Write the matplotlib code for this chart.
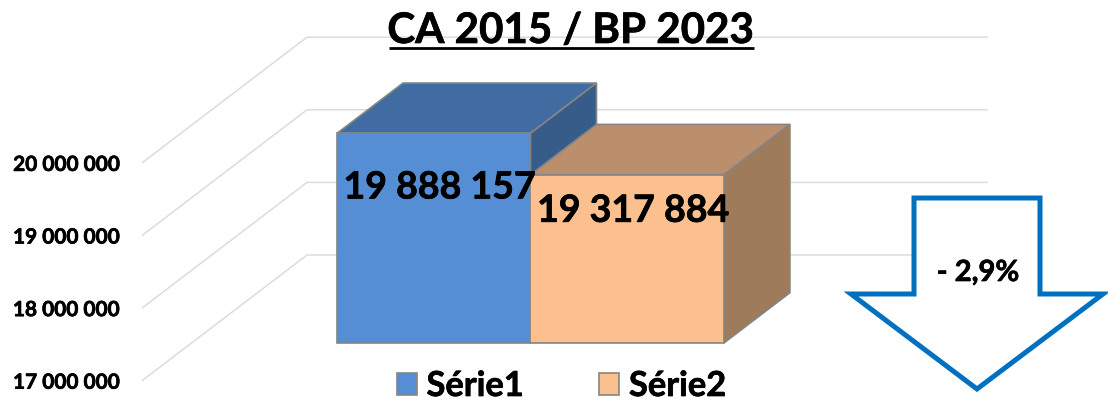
#!/usr/bin/env python
"""CA 2015 / BP 2023: two 3D-look bars with a -2,9% arrow."""
import matplotlib
matplotlib.use("Agg")
import matplotlib.pyplot as plt
import matplotlib.patheffects as pe
from matplotlib.patches import Polygon, Patch

plt.rcParams["font.family"] = ["Lato", "DejaVu Sans"]
plt.rcParams["font.weight"] = "bold"

# data
series = ["Série1", "Série2"]
values = [19888157, 19317884]
value_labels = ["19 888 157", "19 317 884"]
ticks = [17000000, 18000000, 19000000, 20000000]
tick_labels = ["17 000 000", "18 000 000", "19 000 000", "20 000 000"]
title = "CA 2015 / BP 2023"
change_label = "- 2,9%"

# figure layout, in pixels
W, H = 1108, 403
AXIS_X = 142          # front left corner of the floor
FLOOR_W = 680         # width of the floor in px
BASE_Y = 380.7        # pixel row of 17 000 000 on the front edge
PX_PER_UNIT = 72.6 / 1e6
DEPTH_X = 165 / FLOOR_W             # full depth, x axis units
DEPTH_Y = 125.7 / PX_PER_UNIT       # full depth, value units

# bar shape, depth from 0.3 to 0.7
BAR_W = 0.2845
BAR_START = 0.214
DEPTH_FRONT, DEPTH_BACK = 0.3, 0.7

front_colors = ["#558ED5", "#FBC08D"]
top_colors = ["#416CA2", "#BB8F6B"]
side_colors = ["#375C8A", "#9E7B5B"]
EDGE = "#858585"
GRID = "#DCDCDC"
ARROW = "#0070C0"

# Lato bold is a bit lighter than the original face
HEAVY = [pe.withStroke(linewidth=0.5, foreground="black")]

fig = plt.figure(figsize=(W / 100, H / 100), dpi=100)
ax = fig.add_axes([AXIS_X / W, 0, (W - AXIS_X) / W, 1])
ax.set_xlim(0, (W - AXIS_X) / FLOOR_W)
ax.set_ylim(ticks[0] - (H - BASE_Y) / PX_PER_UNIT, ticks[0] + BASE_Y / PX_PER_UNIT)
for spine in ax.spines.values():
    spine.set_visible(False)
ax.set_xticks([])
ax.set_yticks(ticks, tick_labels)
ax.tick_params(axis="y", length=0, pad=16.2, labelsize=15)
for lbl in ax.get_yticklabels():
    lbl.set_path_effects(HEAVY)
ax.patch.set_visible(False)


def proj(x, v, depth):
    """Project a point (x, value, depth) on the flat axes."""
    return x + DEPTH_X * depth, v + DEPTH_Y * depth


# walls
for t in ticks:
    ax.plot([0, DEPTH_X, 1 + DEPTH_X], [t, t + DEPTH_Y, t + DEPTH_Y],
            color=GRID, lw=1.1, zorder=1)

# bars
for i, v in enumerate(values):
    x0 = BAR_START + i * BAR_W
    x1 = x0 + BAR_W
    base = ticks[0]
    faces = [
        ([(x0, v, DEPTH_FRONT), (x1, v, DEPTH_FRONT), (x1, v, DEPTH_BACK), (x0, v, DEPTH_BACK)], top_colors[i]),
        ([(x1, base, DEPTH_FRONT), (x1, base, DEPTH_BACK), (x1, v, DEPTH_BACK), (x1, v, DEPTH_FRONT)], side_colors[i]),
        ([(x0, base, DEPTH_FRONT), (x1, base, DEPTH_FRONT), (x1, v, DEPTH_FRONT), (x0, v, DEPTH_FRONT)], front_colors[i]),
    ]
    for pts, color in faces:
        ax.add_patch(Polygon([proj(*p) for p in pts], closed=True, facecolor=color,
                             edgecolor=EDGE, lw=1.2, zorder=2 + i, joinstyle="miter"))

# data labels sit a little under the top of each bar
label_drops = [-39, -26]
for i, v in enumerate(values):
    cx, cy = proj(BAR_START + (i + 0.5) * BAR_W, v, DEPTH_FRONT)
    ax.annotate(value_labels[i], (cx, cy), xytext=(4.3, label_drops[i]), textcoords="offset points",
                ha="center", va="center", fontsize=27, color="black", zorder=6, path_effects=HEAVY)

# overlay in pixel coordinates for title, arrow and legend
ov = fig.add_axes([0, 0, 1, 1])
ov.set_xlim(0, W)
ov.set_ylim(H, 0)
ov.axis("off")
ov.patch.set_visible(False)

ov.text(571, 31, title, ha="center", va="center", fontsize=30.3, color="black", path_effects=HEAVY)
ov.plot([389, 754], [48, 48], color="black", lw=2.0, solid_capstyle="butt")

arrow_pts = [(914, 198), (1040, 198), (1040, 294), (1103, 294), (977, 389), (851, 294), (914, 294)]
ov.add_patch(Polygon(arrow_pts, closed=True, facecolor="white", edgecolor=ARROW, lw=3.6, joinstyle="miter"))
ov.text(978, 273, change_label, ha="center", va="center", fontsize=21, color="black", path_effects=HEAVY)

handles = [Patch(facecolor=front_colors[i], edgecolor=EDGE, lw=1.2, label=series[i]) for i in range(2)]
leg = ov.legend(handles=handles, loc="center", bbox_to_anchor=(561.5 / W, 1 - 386 / H), ncol=2, frameon=False,
                fontsize=24.8, handlelength=0.58, handleheight=0.58, handletextpad=0.29,
                columnspacing=2.18, borderpad=0)
for txt in leg.get_texts():
    txt.set_path_effects(HEAVY)

fig.savefig("out.png", dpi=100)
